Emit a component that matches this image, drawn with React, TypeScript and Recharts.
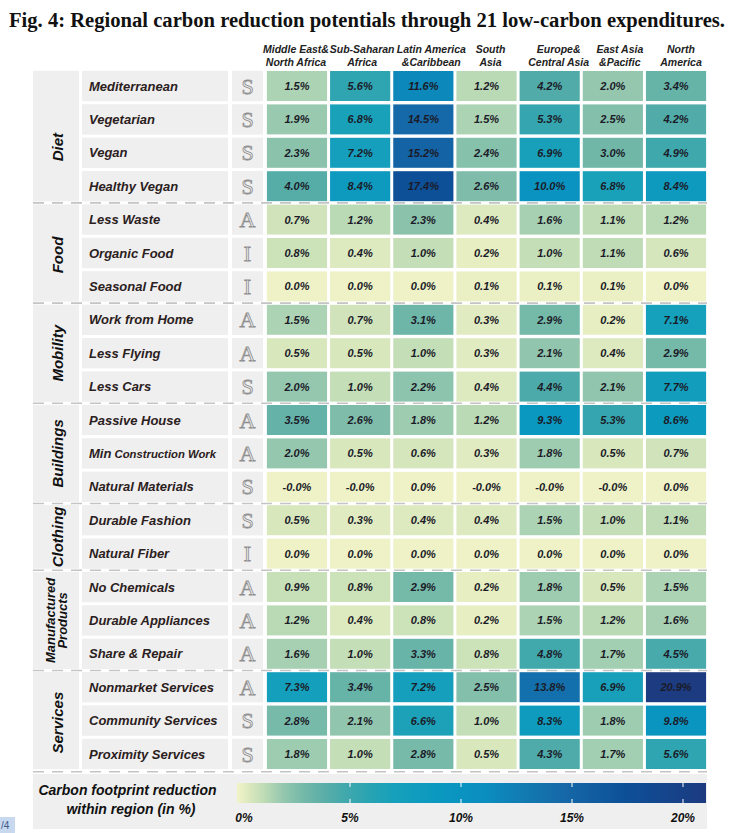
import React from 'react';
import { ScatterChart, Scatter, XAxis, YAxis, Customized } from 'recharts';

// ---------------- DATA ----------------
const regionLine1 = ['Middle East&', 'Sub-Saharan', 'Latin America', 'South', 'Europe&', 'East Asia', 'North'];
const regionLine2 = ['North Africa', 'Africa', '&Caribbean', 'Asia', 'Central Asia', '&Pacific', 'America'];

const activities = [
  'Mediterranean', 'Vegetarian', 'Vegan', 'Healthy Vegan',
  'Less Waste', 'Organic Food', 'Seasonal Food',
  'Work from Home', 'Less Flying', 'Less Cars',
  'Passive House', 'Min Construction Work', 'Natural Materials',
  'Durable Fashion', 'Natural Fiber',
  'No Chemicals', 'Durable Appliances', 'Share & Repair',
  'Nonmarket Services', 'Community Services', 'Proximity Services',
];
const actionTypes = ['S', 'S', 'S', 'S', 'A', 'I', 'I', 'A', 'A', 'S', 'A', 'A', 'S', 'S', 'I', 'A', 'A', 'A', 'A', 'S', 'S'];

const groupNames = ['Diet', 'Food', 'Mobility', 'Buildings', 'Clothing', 'Manufactured|Products', 'Services'];
const groupSizes = [4, 3, 3, 3, 2, 3, 3];

// values in % (carbon footprint reduction within region); -0.01 stands for "-0.0"
const menaValues = [1.5, 1.9, 2.3, 4.0, 0.7, 0.8, 0.0, 1.5, 0.5, 2.0, 3.5, 2.0, -0.01, 0.5, 0.0, 0.9, 1.2, 1.6, 7.3, 2.8, 1.8];
const ssaValues = [5.6, 6.8, 7.2, 8.4, 1.2, 0.4, 0.0, 0.7, 0.5, 1.0, 2.6, 0.5, -0.01, 0.3, 0.0, 0.8, 0.4, 1.0, 3.4, 2.1, 1.0];
const lacValues = [11.6, 14.5, 15.2, 17.4, 2.3, 1.0, 0.0, 3.1, 1.0, 2.2, 1.8, 0.6, 0.0, 0.4, 0.0, 2.9, 0.8, 3.3, 7.2, 6.6, 2.8];
const sasValues = [1.2, 1.5, 2.4, 2.6, 0.4, 0.2, 0.1, 0.3, 0.3, 0.4, 1.2, 0.3, -0.01, 0.4, 0.0, 0.2, 0.2, 0.8, 2.5, 1.0, 0.5];
const ecaValues = [4.2, 5.3, 6.9, 10.0, 1.6, 1.0, 0.1, 2.9, 2.1, 4.4, 9.3, 1.8, -0.01, 1.5, 0.0, 1.8, 1.5, 4.8, 13.8, 8.3, 4.3];
const eapValues = [2.0, 2.5, 3.0, 6.8, 1.1, 1.1, 0.1, 0.2, 0.4, 2.1, 5.3, 0.5, -0.01, 1.0, 0.0, 0.5, 1.2, 1.7, 6.9, 1.8, 1.7];
const namValues = [3.4, 4.2, 4.9, 8.4, 1.2, 0.6, 0.0, 7.1, 2.9, 7.7, 8.6, 0.7, 0.0, 1.1, 0.0, 1.5, 1.6, 4.5, 20.9, 9.8, 5.6];

const colorbarTicks = [0, 5, 10, 15, 20];
const colorbarMax = 21;

// ---------------- LAYOUT ----------------
const W = 745;
const H = 833;
const PLOT = { left: 265.4, right: 707.6, top: 69.3, bottom: 770.7 };
const NCOL = regionLine1.length;
const NROW = activities.length;
const PX = (PLOT.right - PLOT.left) / NCOL;
const PY = (PLOT.bottom - PLOT.top) / NROW;
const CELL_W = PX - 3;
const CELL_H = PY - 3.4;
const SANS = "'Liberation Sans', Arial, Helvetica, sans-serif";
const SERIF = "'Liberation Serif', 'DejaVu Serif', serif";
const PANEL = '#efefef';
const HEADER_DX = [-1, 2, 8, 4, 9, 7, 5];
const GROUP_DY = [11, 2, 0, 0, 0, 0, 2];

// colour scale (YlGnBu-like)
const colorStops: [number, number[]][] = [
  [0, [238, 242, 198]],
  [0.5, [217, 231, 189]],
  [1, [196, 222, 183]],
  [2, [148, 199, 174]],
  [3, [113, 183, 168]],
  [4, [86, 173, 168]],
  [5, [60, 167, 173]],
  [6, [38, 163, 180]],
  [7, [22, 160, 187]],
  [9, [10, 152, 192]],
  [11, [10, 142, 192]],
  [13, [18, 121, 176]],
  [14.5, [22, 105, 168]],
  [17.4, [13, 80, 152]],
  [21, [28, 58, 128]],
];

function colorFor(v: number): string {
  const x = Math.max(0, Math.min(colorbarMax, v));
  for (let i = 0; i < colorStops.length - 1; i++) {
    const [a, ca] = colorStops[i];
    const [b, cb] = colorStops[i + 1];
    if (x >= a && x <= b) {
      const t = (x - a) / (b - a);
      const c = ca.map((q, k) => Math.round(q + (cb[k] - q) * t));
      return `rgb(${c[0]},${c[1]},${c[2]})`;
    }
  }
  const c = colorStops[colorStops.length - 1][1];
  return `rgb(${c[0]},${c[1]},${c[2]})`;
}

const regionSeries = [menaValues, ssaValues, lacValues, sasValues, ecaValues, eapValues, namValues];
const cellData = regionSeries.flatMap((vals, c) => vals.map((v, r) => ({ x: c, y: r, v })));

const groupStarts: number[] = [];
{
  let s = 0;
  groupSizes.forEach((n) => {
    groupStarts.push(s);
    s += n;
  });
}

// ---------------- RENDERERS ----------------
const CellShape = (props: any) => {
  const { cx, cy, payload } = props;
  if (cx == null || cy == null) return null;
  return (
    <g>
      <rect x={cx - CELL_W / 2} y={cy - CELL_H / 2} width={CELL_W} height={CELL_H} fill={colorFor(payload.v)} />
      <text
        x={cx}
        y={cy + 4}
        textAnchor="middle"
        fontFamily={SANS}
        fontSize={11}
        fontWeight="bold"
        fontStyle="italic"
        fill="#1b1b28"
      >
        {`${payload.v.toFixed(1)}%`}
      </text>
    </g>
  );
};

const HeaderTick = (props: any) => {
  const { x, payload } = props;
  const i = Number(payload.value);
  const cx = x + HEADER_DX[i];
  return (
    <g>
      <text x={cx} y={52.5} textAnchor="middle" fontFamily={SANS} fontSize={10.5} fontWeight="bold" fontStyle="italic" fill="#222">
        {regionLine1[i]}
      </text>
      <text x={cx} y={66} textAnchor="middle" fontFamily={SANS} fontSize={10.5} fontWeight="bold" fontStyle="italic" fill="#222">
        {regionLine2[i]}
      </text>
    </g>
  );
};

const RowTick = (props: any) => {
  const { y, payload } = props;
  const i = Number(payload.value);
  const top = y - PY / 2;
  const bottom = y + PY / 2;
  const g = groupStarts.indexOf(i);
  const name = activities[i];
  let groupEl: React.ReactNode = null;
  if (g >= 0) {
    const gh = groupSizes[g] * PY;
    const gc = top + gh / 2 + GROUP_DY[g];
    const parts = groupNames[g].split('|');
    groupEl = (
      <g>
        <rect x={33} y={top + 1.5} width={46} height={gh - 3} fill={PANEL} />
        {parts.length === 1 ? (
          <text
            x={63}
            y={gc}
            transform={`rotate(-90, 63, ${gc})`}
            textAnchor="middle"
            fontFamily={SANS}
            fontSize={15}
            fontWeight="bold"
            fontStyle="italic"
            fill="#111"
          >
            {parts[0]}
          </text>
        ) : (
          <g>
            <text
              x={55}
              y={gc}
              transform={`rotate(-90, 55, ${gc})`}
              textAnchor="middle"
              fontFamily={SANS}
              fontSize={13}
              fontWeight="bold"
              fontStyle="italic"
              fill="#111"
            >
              {parts[0]}
            </text>
            <text
              x={67.5}
              y={gc}
              transform={`rotate(-90, 67.5, ${gc})`}
              textAnchor="middle"
              fontFamily={SANS}
              fontSize={13}
              fontWeight="bold"
              fontStyle="italic"
              fill="#111"
            >
              {parts[1]}
            </text>
          </g>
        )}
      </g>
    );
  }
  const isMin = name.startsWith('Min ');
  return (
    <g>
      {groupEl}
      <rect x={82} y={top + 1.5} width={146} height={PY - 3} fill={PANEL} />
      <rect x={232} y={top + 1.5} width={31} height={PY - 3} fill={PANEL} />
      <text x={89} y={y + 4.5} fontFamily={SANS} fontSize={13} fontWeight="bold" fontStyle="italic" fill="#2b2020">
        {isMin ? (
          <>
            <tspan>Min</tspan>
            <tspan fontSize={11.3}>{name.slice(3)}</tspan>
          </>
        ) : (
          name
        )}
      </text>
      <text
        x={247.5}
        y={y + 7.5}
        textAnchor="middle"
        fontFamily={SERIF}
        fontSize={22}
        fill="#e9e9e9"
        stroke="#8e8e8e"
        strokeWidth={0.8}
      >
        {actionTypes[i]}
      </text>
      {g > 0 && (
        <line x1={33} x2={707} y1={top} y2={top} stroke="#c4c4c4" strokeWidth={1.6} strokeDasharray="11 8" />
      )}
      {i === NROW - 1 && (
        <line x1={33} x2={707} y1={bottom + 1} y2={bottom + 1} stroke="#c4c4c4" strokeWidth={1.6} strokeDasharray="11 8" />
      )}
    </g>
  );
};

const Extras = () => {
  const barX0 = 237;
  const barX1 = 706;
  const v2x = (v: number) => 239 + v * 22.2;
  const gradStops = colorStops.map(([v]) => v);
  return (
    <g>
      <text
        x={9}
        y={27}
        fontFamily="'Liberation Serif', 'Times New Roman', serif"
        fontSize={20}
        fontWeight="bold"
        fill="#111"
        textLength={716}
        lengthAdjust="spacingAndGlyphs"
      >
        Fig. 4: Regional carbon reduction potentials through 21 low-carbon expenditures.
      </text>
      <defs>
        <linearGradient id="cbar" x1="0" x2="1" y1="0" y2="0">
          {gradStops.map((v) => (
            <stop key={v} offset={`${Math.min(100, ((v2x(v) - barX0) / (barX1 - barX0)) * 100)}%`} stopColor={colorFor(v)} />
          ))}
        </linearGradient>
      </defs>
      <rect x={33} y={774} width={674} height={55} fill={PANEL} />
      <text x={127.5} y={795} textAnchor="middle" fontFamily={SANS} fontSize={14} fontWeight="bold" fontStyle="italic" fill="#111">
        Carbon footprint reduction
      </text>
      <text x={131} y={814} textAnchor="middle" fontFamily={SANS} fontSize={14} fontWeight="bold" fontStyle="italic" fill="#111">
        within region (in %)
      </text>
      <rect x={barX0} y={783} width={barX1 - barX0} height={20} fill="url(#cbar)" />
      {colorbarTicks.map((t) =>
        t > 0 ? (
          <g key={`tk${t}`}>
            <line x1={v2x(t)} x2={v2x(t)} y1={783} y2={787} stroke="#ffffff" strokeWidth={1} />
            <line x1={v2x(t)} x2={v2x(t)} y1={799} y2={803} stroke="#ffffff" strokeWidth={1} />
          </g>
        ) : null
      )}
      {colorbarTicks.map((t) => (
        <text
          key={`lb${t}`}
          x={Math.max(244, v2x(t))}
          y={822}
          textAnchor="middle"
          fontFamily={SANS}
          fontSize={12}
          fontWeight="bold"
          fontStyle="italic"
          fill="#111"
        >
          {`${t}%`}
        </text>
      ))}
      <rect x={0} y={817} width={15} height={16} fill="#c8d8ee" />
      <text x={1} y={829} fontFamily={SANS} fontSize={10} fill="#3a5a8a">
        /4
      </text>
    </g>
  );
};

export default function App() {
  return (
    <div style={{ position: 'absolute', left: 0, top: 0, width: W, height: H, background: '#fff' }}>
      <ScatterChart
        width={W}
        height={H}
        margin={{ top: PLOT.top - 20, right: W - PLOT.right, bottom: H - PLOT.bottom, left: PLOT.left - 1 }}
      >
        <XAxis
          type="number"
          dataKey="x"
          orientation="top"
          domain={[-0.5, NCOL - 0.5]}
          ticks={regionLine1.map((_, i) => i)}
          interval={0}
          height={20}
          axisLine={false}
          tickLine={false}
          tick={(p: any) => <HeaderTick {...p} />}
        />
        <YAxis
          type="number"
          dataKey="y"
          domain={[-0.5, NROW - 0.5]}
          reversed
          ticks={activities.map((_, i) => i)}
          interval={0}
          width={1}
          axisLine={false}
          tickLine={false}
          tick={(p: any) => <RowTick {...p} />}
        />
        <Scatter data={cellData} shape={(p: any) => <CellShape {...p} />} isAnimationActive={false} />
        <Customized component={Extras} />
      </ScatterChart>
    </div>
  );
}
